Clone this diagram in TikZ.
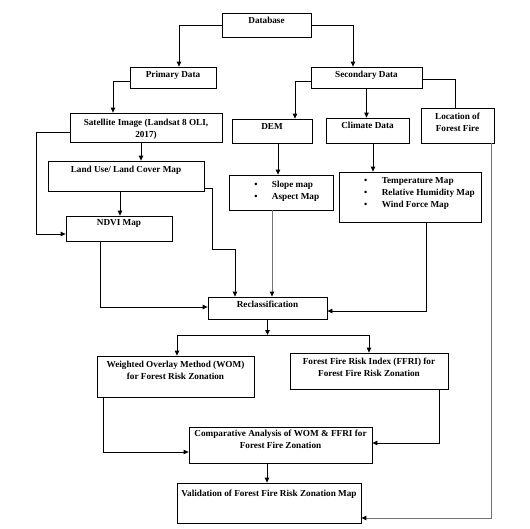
\documentclass[tikz,border=0pt]{standalone}
\usepackage{fontspec}
\setmainfont{Liberation Serif}
\usetikzlibrary{arrows.meta}
\begin{document}
\begin{tikzpicture}[x=1pt,y=-1pt,
  box/.style={draw, line width=0.8pt, inner sep=0pt, fill=white},
  txt/.style={font=\fontsize{9.2}{11.5}\bfseries\selectfont, align=center, inner sep=0pt, anchor=north},
  btxt/.style={font=\fontsize{9.2}{12}\bfseries\selectfont, align=left, inner sep=0pt, anchor=north west},
  con/.style={line width=0.8pt},
  gcon/.style={line width=0.9pt, draw=black!55},
  arr/.style={con, -{Triangle[length=5pt,width=4.5pt]}},
  garr/.style={gcon, -{Triangle[length=5pt,width=4.5pt,fill=black,color=black]}}]
\useasboundingbox (0,0) rectangle (530,528);
\fill[white] (0,0) rectangle (530,528);

% boxes
\node[box, minimum width=89pt, minimum height=24pt, label={[txt, yshift=-4.1pt]north:Database}] (db) at (266.5,25) {};
\node[box, minimum width=86pt, minimum height=21pt, label={[txt, yshift=-4.6pt]north:Primary Data}] (prim) at (173,77.5) {};
\node[box, minimum width=111pt, minimum height=21pt, label={[txt, yshift=-4.6pt]north:Secondary Data}] (sec) at (366.5,77.5) {};
\node[box, minimum width=152pt, minimum height=29pt, label={[txt, yshift=-6.6pt]north:{Satellite Image (Landsat 8 OLI,\\2017)}}] (sat) at (146,127.5) {};
\node[box, minimum width=80pt, minimum height=24pt, label={[txt, yshift=-4.6pt]north:DEM}] (dem) at (272,131) {};
\node[box, minimum width=83pt, minimum height=25pt, label={[txt, yshift=-4.6pt]north:Climate Data}] (clim) at (367.5,130.5) {};
\node[box, minimum width=73pt, minimum height=35pt, label={[txt, yshift=-5.6pt]north:{Location of\\Forest Fire}}] (loc) at (457.5,125.5) {};
\node[box, minimum width=156pt, minimum height=30pt, label={[txt, yshift=-5.6pt]north:Land Use/ Land Cover Map}] (lu) at (126,176) {};
\node[box, minimum width=104pt, minimum height=35pt, label={[btxt, xshift=25.5pt, yshift=-5.9pt]north west:{\textbullet\hspace{14.4pt}Slope map\\\textbullet\hspace{14.4pt}Aspect Map}}] (slope) at (281,192.5) {};
\node[box, minimum width=142pt, minimum height=50pt, label={[btxt, xshift=25.4pt, yshift=-5.6pt]north west:{\textbullet\hspace{14.4pt}Temperature Map\\\textbullet\hspace{14.4pt}Relative Humidity Map\\\textbullet\hspace{14.4pt}Wind Force Map}}] (cmaps) at (410,197) {};
\node[box, minimum width=106pt, minimum height=25pt, label={[txt, yshift=-3.6pt]north:NDVI Map}] (ndvi) at (119,228.5) {};
\node[box, minimum width=119pt, minimum height=22pt, label={[txt, yshift=-4.6pt]north:Reclassification}] (recl) at (267.5,308) {};
\node[box, minimum width=157pt, minimum height=41pt, label={[txt, yshift=-5.6pt]north:{Weighted Overlay Method (WOM)\\for Forest Risk Zonation}}] (wom) at (175.5,376.5) {};
\node[box, minimum width=158pt, minimum height=36pt, label={[txt, yshift=-5.6pt]north:{Forest Fire Risk Index (FFRI) for\\Forest Fire Risk Zonation}}] (ffri) at (369,371) {};
\node[box, minimum width=183pt, minimum height=36pt, label={[txt, yshift=-3.6pt]north:{Comparative Analysis of WOM \& FFRI for\\Forest Fire Zonation}}] (comp) at (280.5,445) {};
\node[box, minimum width=184pt, minimum height=40pt, label={[txt, yshift=-7.6pt]north:Validation of Forest Fire Risk Zonation Map}] (val) at (269,503) {};

\coordinate (split) at (267.5,335);

% connectors
\draw[arr] (db.west) -| ([xshift=6pt]prim.north);
\draw[arr] (db.east) -| ([xshift=-13.5pt]sec.north);
\draw[arr] ([yshift=-3.5pt]prim.west) -| ([xshift=-33pt]sat.north);
\draw[arr] ([yshift=-4.5pt]sat.west) -| (36,234) -- ([yshift=-5.5pt]ndvi.west);
\draw[arr] ([xshift=-5pt]sat.south) -- ([xshift=-5pt]sat.south |- lu.north);
\draw[arr] ([xshift=-6pt]lu.south) -- ([xshift=-6pt]lu.south |- ndvi.north);
\draw[arr] ([yshift=-12pt]lu.east) -| (212,249) -| ([xshift=-32.5pt]recl.north);
\draw[arr] ([xshift=-19pt]ndvi.south) |- ([yshift=1pt]recl.west);
\draw[arr] ([yshift=-3.5pt]sec.west) -| ([xshift=23pt]dem.north);
\draw[arr] (sec.south) -- (sec.south |- clim.north);
\draw[con] ([yshift=-1.5pt]sec.east) -| ([xshift=-2.5pt]loc.north);
\draw[arr] ([xshift=6pt]dem.south) -- ([xshift=6pt]dem.south |- slope.north);
\draw[arr] ([xshift=5.5pt]clim.south) -- ([xshift=5.5pt]clim.south |- cmaps.north);
\draw[garr] ([xshift=4.5pt]recl.north |- slope.south) -- ([xshift=4.5pt]recl.north);
\draw[arr] ([xshift=16pt]cmaps.south) |- ([yshift=-3pt]recl.east);
\draw[garr] ([xshift=33.5pt]loc.south) |- ([yshift=-15pt]val.east);
\draw[arr] (recl.south) -- (split);
\draw[con] (split) -- (177,335) (split) -- (369,335);
\draw[arr] (177,335) -- (177,335 |- wom.north);
\draw[arr] (369,335) -- (369,335 |- ffri.north);
\draw[arr] ([xshift=-72.5pt]wom.south) |- ([yshift=-7pt]comp.west);
\draw[arr] ([xshift=70pt]ffri.south) |- ([yshift=2pt]comp.east);
\draw[arr] ([xshift=-13.5pt]comp.south) -- ([xshift=-13.5pt]comp.south |- val.north);
\end{tikzpicture}
\end{document}
